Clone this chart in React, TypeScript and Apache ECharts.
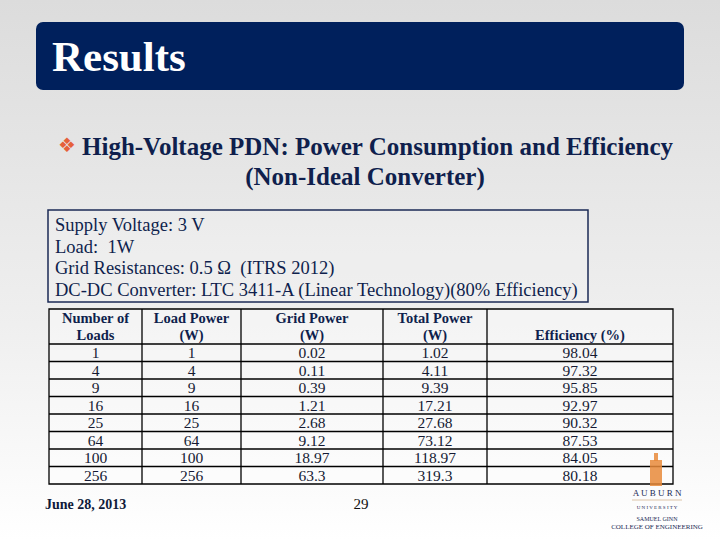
import React, { useEffect, useRef } from "react";
import * as echarts from "echarts";

const headers = ["Number of\nLoads", "Load Power\n(W)", "Grid Power\n(W)", "Total Power\n(W)", "Efficiency (%)"];
const loads = [1, 4, 9, 16, 25, 64, 100, 256];
const loadPower = [1, 4, 9, 16, 25, 64, 100, 256];
const gridPower = [0.02, 0.11, 0.39, 1.21, 2.68, 9.12, 18.97, 63.3];
const totalPower = [1.02, 4.11, 9.39, 17.21, 27.68, 73.12, 118.97, 319.3];
const efficiency = [98.04, 97.32, 95.85, 92.97, 90.32, 87.53, 84.05, 80.18];
const infoLines = [
  "Supply Voltage: 3 V",
  "Load:  1W",
  "Grid Resistances: 0.5 \u03A9  (ITRS 2012)",
  "DC-DC Converter: LTC 3411-A (Linear Technology)(80% Efficiency)",
];
const titleText = "Results";
const subtitle1 = "High-Voltage PDN: Power Consumption and Efficiency";
const subtitle2 = "(Non-Ideal Converter)";
const footerDate = "June 28, 2013";
const pageNumber = "29";

const SERIF = "'Liberation Serif', 'DejaVu Serif', serif";
const NAVY = "#0f1f4d";

export default function App() {
  const ref = useRef<HTMLDivElement>(null);
  useEffect(() => {
    document.body.style.margin = "0";
    const chart = echarts.init(ref.current!, null, { renderer: "svg" });

    const colX = [49, 142, 241, 383, 487, 673];
    const tableTop = 309;
    const headerBottom = 344;
    const rowH = 17.5;
    const nRows = loads.length;
    const tableBottom = headerBottom + rowH * nRows;

    const elements: any[] = [];
    // background
    elements.push({
      type: "rect",
      shape: { x: 0, y: 0, width: 720, height: 540 },
      style: {
        fill: new echarts.graphic.LinearGradient(0, 0, 0, 1, [
          { offset: 0, color: "#dcdcdc" },
          { offset: 0.6, color: "#efefef" },
          { offset: 1, color: "#ffffff" },
        ]),
      },
      silent: true,
    });
    // title bar
    elements.push({
      type: "rect",
      shape: { x: 36, y: 22, width: 648, height: 68, r: 7 },
      style: { fill: "#00205c" },
    });
    elements.push({
      type: "text",
      x: 52,
      y: 56,
      style: { text: titleText, fill: "#ffffff", font: `bold 43px ${SERIF}`, verticalAlign: "middle" },
    });
    // subtitle
    elements.push({
      type: "text",
      x: 67,
      y: 145,
      style: { text: "\u2756", fill: "#e5603a", font: `20px 'DejaVu Sans'`, align: "center", verticalAlign: "middle" },
    });
    elements.push({
      type: "text",
      x: 82,
      y: 146,
      style: { text: subtitle1, fill: NAVY, font: `bold 25px ${SERIF}`, verticalAlign: "middle" },
    });
    elements.push({
      type: "text",
      x: 365,
      y: 176,
      style: { text: subtitle2, fill: NAVY, font: `bold 25px ${SERIF}`, align: "center", verticalAlign: "middle" },
    });
    // info box
    elements.push({
      type: "rect",
      shape: { x: 48, y: 210, width: 540, height: 92 },
      style: { fill: "rgba(255,255,255,0.15)", stroke: "#1b2a55", lineWidth: 1.5 },
    });
    infoLines.forEach((t, i) => {
      elements.push({
        type: "text",
        x: 55,
        y: 225 + i * 21.7,
        style: { text: t, fill: NAVY, font: `18.5px ${SERIF}`, verticalAlign: "middle" },
      });
    });
    // table grid
    elements.push({
      type: "rect",
      shape: { x: colX[0], y: tableTop, width: colX[5] - colX[0], height: tableBottom - tableTop },
      style: { fill: "rgba(255,255,255,0.35)", stroke: "#000", lineWidth: 1.3 },
    });
    for (let c = 1; c < colX.length - 1; c++) {
      elements.push({
        type: "line",
        shape: { x1: colX[c], y1: tableTop, x2: colX[c], y2: tableBottom },
        style: { stroke: "#000", lineWidth: 1.3 },
      });
    }
    for (let r = 0; r < nRows; r++) {
      const y = headerBottom + r * rowH;
      elements.push({
        type: "line",
        shape: { x1: colX[0], y1: y, x2: colX[5], y2: y },
        style: { stroke: "#000", lineWidth: 1.3 },
      });
    }
    // headers
    headers.forEach((h, c) => {
      const cx = (colX[c] + colX[c + 1]) / 2;
      const lines = h.split("\n");
      if (lines.length === 2) {
        lines.forEach((ln, k) => {
          elements.push({
            type: "text",
            x: cx,
            y: 318 + k * 17,
            style: { text: ln, fill: NAVY, font: `bold 14.5px ${SERIF}`, align: "center", verticalAlign: "middle" },
          });
        });
      } else {
        elements.push({
          type: "text",
          x: cx,
          y: 335,
          style: { text: h, fill: NAVY, font: `bold 14.5px ${SERIF}`, align: "center", verticalAlign: "middle" },
        });
      }
    });
    const cols = [loads, loadPower, gridPower, totalPower, efficiency];
    cols.forEach((arr, c) => {
      const cx = (colX[c] + colX[c + 1]) / 2;
      arr.forEach((v, r) => {
        elements.push({
          type: "text",
          x: cx,
          y: headerBottom + r * rowH + rowH / 2,
          style: { text: String(v), fill: "#151a33", font: `15.5px ${SERIF}`, align: "center", verticalAlign: "middle" },
        });
      });
    });
    // footer
    elements.push({
      type: "text",
      x: 45,
      y: 504,
      style: { text: footerDate, fill: "#0f1a3a", font: `bold 14px ${SERIF}`, verticalAlign: "middle" },
    });
    elements.push({
      type: "text",
      x: 361,
      y: 504,
      style: { text: pageNumber, fill: "#111", font: `15px ${SERIF}`, align: "center", verticalAlign: "middle" },
    });
    // Auburn logo (approximation)
    elements.push({
      type: "rect",
      shape: { x: 650, y: 460, width: 12, height: 26 },
      style: { fill: "#e8893a", opacity: 0.85 },
    });
    elements.push({
      type: "rect",
      shape: { x: 654, y: 453, width: 4, height: 8 },
      style: { fill: "#e8893a", opacity: 0.85 },
    });
    elements.push({
      type: "text",
      x: 657,
      y: 493,
      style: { text: "A U B U R N", fill: "#1a2a55", font: `9px ${SERIF}`, align: "center", verticalAlign: "middle" },
    });
    elements.push({
      type: "line",
      shape: { x1: 632, y1: 500, x2: 682, y2: 500 },
      style: { stroke: "#c8a070", lineWidth: 0.6 },
    });
    elements.push({
      type: "text",
      x: 657,
      y: 507,
      style: { text: "U N I V E R S I T Y", fill: "#1a2a55", font: `5px ${SERIF}`, align: "center", verticalAlign: "middle" },
    });
    elements.push({
      type: "text",
      x: 657,
      y: 519,
      style: { text: "SAMUEL GINN", fill: "#1a2a55", font: `6px ${SERIF}`, align: "center", verticalAlign: "middle" },
    });
    elements.push({
      type: "text",
      x: 657,
      y: 527,
      style: { text: "COLLEGE OF ENGINEERING", fill: "#1a2a55", font: `7px ${SERIF}`, align: "center", verticalAlign: "middle" },
    });

    chart.setOption({ animation: false, graphic: { elements } });
    return () => chart.dispose();
  }, []);
  return <div ref={ref} style={{ width: 720, height: 540 }} />;
}
